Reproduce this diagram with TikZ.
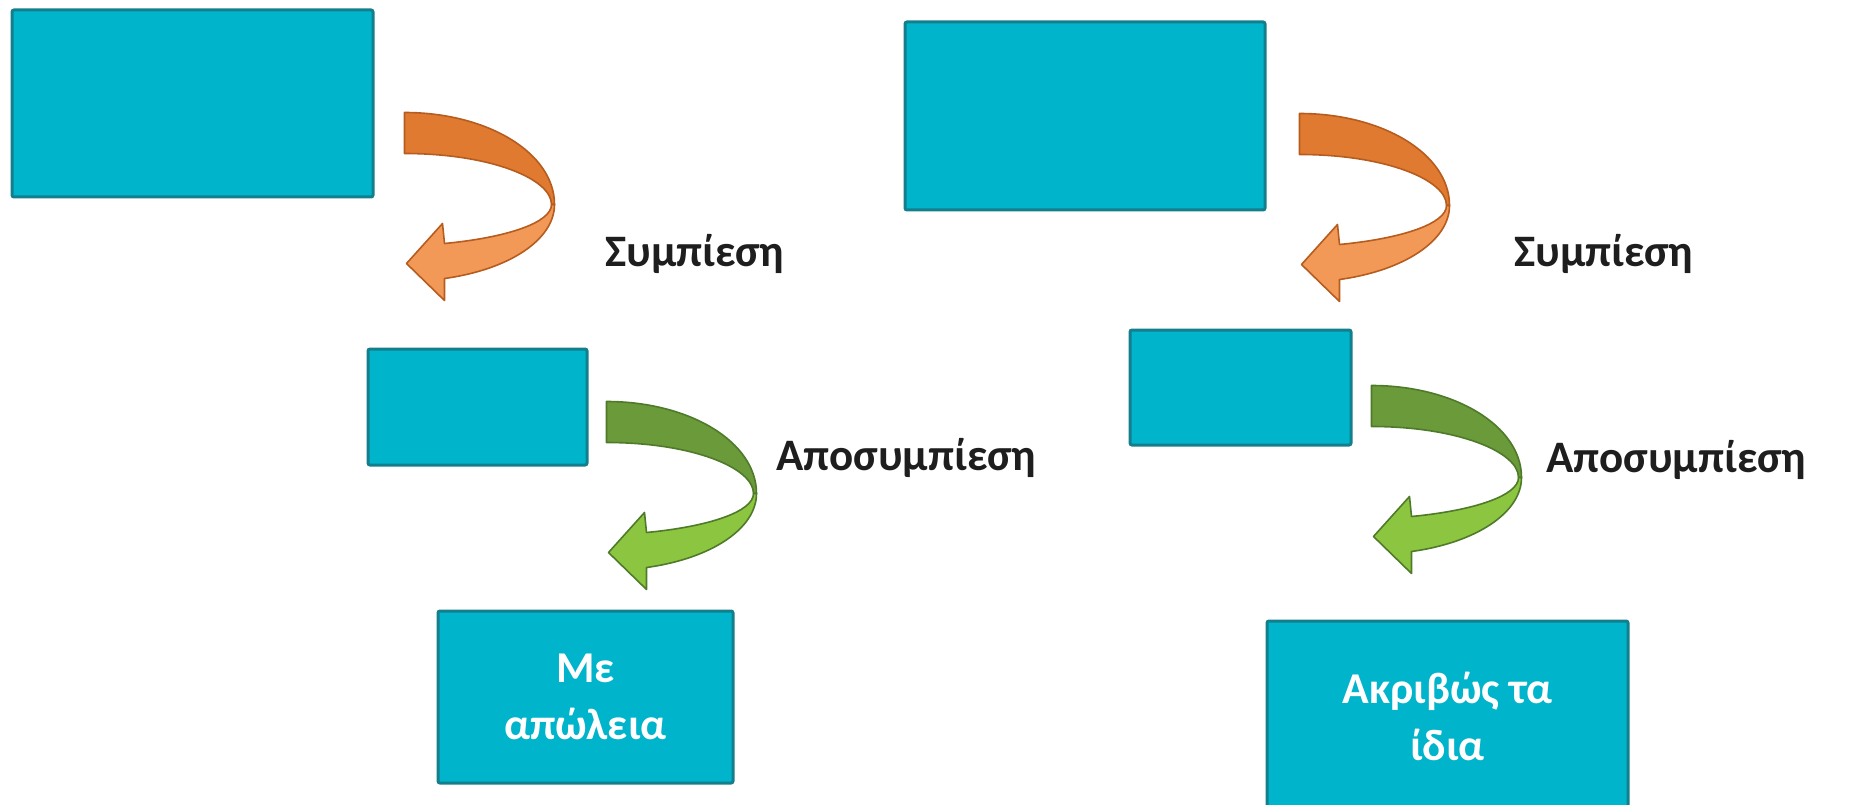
\documentclass[tikz,border=0pt]{standalone}
\usepackage{fontspec}
\setmainfont{Carlito}
\usetikzlibrary{calc}

\definecolor{boxfill}{HTML}{00B4CB}
\definecolor{boxline}{HTML}{137F8D}
\definecolor{labeltext}{HTML}{1E1E1E}
\definecolor{orangedark}{HTML}{E07A30}
\definecolor{orangelight}{HTML}{F39957}
\definecolor{orangeline}{HTML}{B65C1E}
\definecolor{greendark}{HTML}{6A9A3A}
\definecolor{greenlight}{HTML}{8CC640}
\definecolor{greenline}{HTML}{4E7A2A}

% curled block arrow: origin = top-left corner of its tail, y grows downwards
% #1 back band, #2 front band and head, #3 outline
\tikzset{
  pics/curl/.style n args={3}{code={
    \filldraw[fill=#1, draw=#3, line width=1.6pt, line join=round]
      (0,0) .. controls (82.8,0) and (150,40.3) .. (150,92)
      -- (147,92) .. controls (147,66) and (85,41) .. (0,41) -- cycle;
    \filldraw[fill=#2, draw=#3, line width=1.6pt, line join=round]
      (150,92) .. controls (150,127) and (105,157) .. (40,166)
      -- (40,188) -- (2,151) -- (38,111) -- (40,131)
      .. controls (103,125) and (147,110) .. (147,92) -- cycle;
  }}
}

\begin{document}
\begin{tikzpicture}[x=1pt,y=-1pt,
  box/.style={draw=boxline, fill=boxfill, line width=3pt, rounded corners=2pt,
    inner sep=0pt, text=white, align=center,
    font=\fontsize{44}{57}\selectfont\bfseries},
  lbl/.style={anchor=west, inner sep=0pt, text=labeltext,
    font=\fontsize{45}{50}\selectfont\bfseries}]
  \useasboundingbox (0,0) rectangle (1850,805);

  % left column: lossy
  \node[box, minimum width=361pt, minimum height=187pt] (b1) at (192.5,103.5) {};
  \node[box, minimum width=219pt, minimum height=116pt] (b2) at (477.5,407) {};
  \node[box, minimum width=295pt, minimum height=172pt] (b3) at (585.5,697) {Με\\απώλεια};

  % right column: lossless
  \node[box, minimum width=360pt, minimum height=188pt] (b4) at (1085,116) {};
  \node[box, minimum width=221pt, minimum height=115pt] (b5) at (1240.5,387.5) {};
  \node[box, minimum width=361pt, minimum height=190pt] (b6) at (1447.5,716) {Ακριβώς τα\\ίδια};

  % curled arrows
  \pic at ($(b1.north east)+(30,104)$) {curl={orangedark}{orangelight}{orangeline}};
  \pic at ($(b2.north east)+(18,54)$) {curl={greendark}{greenlight}{greenline}};
  \pic at ($(b4.north east)+(33,93)$) {curl={orangedark}{orangelight}{orangeline}};
  \pic at ($(b5.north east)+(19,57)$) {curl={greendark}{greenlight}{greenline}};

  % step labels
  \node[lbl] (l1) at (605,254) {Συμπίεση};
  \node[lbl] (l2) at (776,458) {Αποσυμπίεση};
  \node[lbl] (l3) at (1514,254) {Συμπίεση};
  \node[lbl] (l4) at (1546,460) {Αποσυμπίεση};
\end{tikzpicture}
\end{document}
